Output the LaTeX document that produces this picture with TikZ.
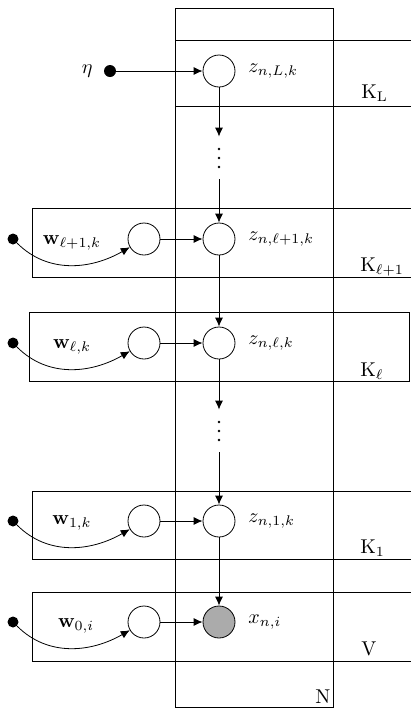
\documentclass[tikz,border=0pt]{standalone}
\usepackage{amsmath,amssymb}
\usepackage{tikz}
\usetikzlibrary{positioning, arrows.meta}

\begin{document}
\begin{tikzpicture}
	[x=0.5pt, y=-0.5pt, on grid, >={Latex[length=4.5pt,width=4pt]},
	 latent/.style={circle, draw, minimum size=16pt, inner sep=0pt},
	 obs/.style={latent, fill=black!33},
	 hyper/.style={circle, fill, minimum size=5.5pt, inner sep=0pt},
	 gap/.style={inner sep=0pt, minimum height=21pt, minimum width=0pt},
	 platelab/.style={anchor=base west, inner sep=0pt}]
   \useasboundingbox (0,0) rectangle (411,709);
   % plates
   \draw (175,8) rectangle (333,707);
   \draw (175,40) rectangle (414,106);
   \draw (32,208) rectangle (414,277);
   \draw (29,312) rectangle (409,381);
   \draw (32,491) rectangle (414,559);
   \draw (32,592) rectangle (414,661);
   \node[platelab] (labN) at (315,703) {N};
   \node[platelab] (labKL) at (361,98) {$\mathrm{K_L}$};
   \node[platelab] (labKl1) at (360,271) {$\mathrm{K}_{\ell+1}$};
   \node[platelab] (labKl) at (360,376) {$\mathrm{K}_{\ell}$};
   \node[platelab] (labK1) at (360,553) {$\mathrm{K}_1$};
   \node[platelab] (labV) at (361,655) {V};
   % z column
   \node[latent, label={[label distance=3pt]right:$z_{n,L,k}$}] (zL) at (219,71) {};
   \node[gap] (dotsL) [below=43.5pt of zL] {};
   \node[latent, label={[label distance=3pt]right:$z_{n,\ell+1,k}$}] (zl1) [below=84pt of zL] {};
   \node[latent, label={[label distance=3pt]right:$z_{n,\ell,k}$}] (zl) [below=52pt of zl1] {};
   \node[gap] (dotsl) [below=44pt of zl] {};
   \node[latent, label={[label distance=3pt]right:$z_{n,1,k}$}] (z1) [below=89pt of zl] {};
   \node[obs, label={[label distance=3pt]right:$x_{n,i}$}] (xn) [below=50.5pt of z1] {};
   % weights
   \node[hyper, minimum size=6pt, label={[label distance=2pt]left:$\eta$}] (eta) [left=54.5pt of zL] {};
   \node[latent] (wl1) [left=37.5pt of zl1] {};
   \node[latent] (wl) [left=37.5pt of zl] {};
   \node[latent] (w1) [left=37.5pt of z1] {};
   \node[latent] (w0) [left=37.5pt of xn] {};
   \node (labwl1) [left=36pt of wl1, yshift=-2pt] {$\mathbf{w}_{\ell+1,k}$};
   \node (labwl) [left=36pt of wl, yshift=-2pt] {$\mathbf{w}_{\ell,k}$};
   \node (labw1) [left=36pt of w1, yshift=-1pt] {$\mathbf{w}_{1,k}$};
   \node (labw0) [left=34pt of w0, yshift=-2pt] {$\mathbf{w}_{0,i}$};
   \node[hyper] (ul1) [left=65.5pt of wl1] {};
   \node[hyper] (ul) [left=65.5pt of wl] {};
   \node[hyper] (u1) [left=65.5pt of w1] {};
   \node[hyper] (u0) [left=65.5pt of w0] {};
   % dots
   \foreach \n in {dotsL, dotsl}
     \foreach \d in {-9,0,9}
       \fill (\n) ++(0,\d) circle (0.7pt);
   \path[->]
    (eta) edge (zL)
    (zL) edge (dotsL.north)
    (dotsL.south) edge (zl1)
    (zl1) edge (zl)
    (zl) edge (dotsl.north)
    (dotsl.south) edge (z1)
    (z1) edge (xn)
    (wl1) edge (zl1)
    (wl) edge (zl)
    (w1) edge (z1)
    (w0) edge (xn)
    (ul1) edge [out=-45, in=-150] (wl1)
    (ul) edge [out=-45, in=-150] (wl)
    (u1) edge [out=-45, in=-150] (w1)
    (u0) edge [out=-45, in=-150] (w0);
\end{tikzpicture}
\end{document}
